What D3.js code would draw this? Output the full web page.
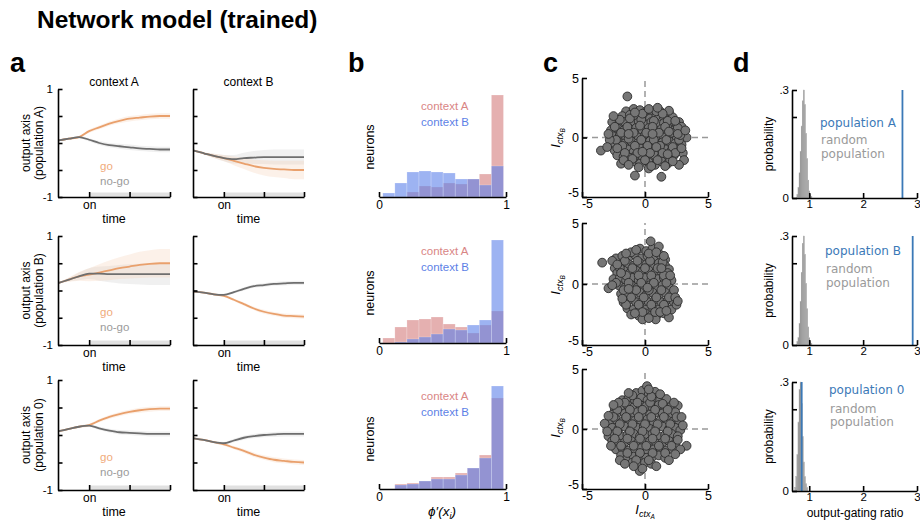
<!DOCTYPE html>
<html>
<head>
<meta charset="utf-8">
<script src="https://cdn.jsdelivr.net/npm/d3@7"></script>
<style>
  body { margin: 0; background: #fff; }
  svg { display: block; }
</style>
</head>
<body>
<svg id="fig" width="920" height="520"></svg>
<script>
// ---------------- panel a: projections onto the output axis ----------------
const timePts = [-0.75, -0.5, -0.25, 0, 0.25, 0.5, 0.75, 1, 1.25, 1.5, 1.75, 2];

const popA_ctxA_go   = [0.05, 0.08, 0.11, 0.22, 0.29, 0.36, 0.41, 0.45, 0.47, 0.49, 0.50, 0.50];
const popA_ctxA_nogo = [0.05, 0.08, 0.11, 0.06, 0.00, -0.04, -0.06, -0.08, -0.10, -0.11, -0.12, -0.12];
const popA_ctxB_go   = [-0.14, -0.19, -0.24, -0.28, -0.33, -0.38, -0.43, -0.46, -0.48, -0.49, -0.50, -0.50];
const popA_ctxB_nogo = [-0.14, -0.19, -0.24, -0.28, -0.30, -0.28, -0.27, -0.26, -0.26, -0.26, -0.26, -0.26];

const popB_ctxA_go   = [0.14, 0.20, 0.26, 0.29, 0.33, 0.37, 0.41, 0.44, 0.47, 0.49, 0.50, 0.50];
const popB_ctxA_nogo = [0.14, 0.20, 0.26, 0.31, 0.31, 0.30, 0.30, 0.30, 0.30, 0.30, 0.30, 0.30];
const popB_ctxB_go   = [-0.02, -0.04, -0.07, -0.10, -0.17, -0.25, -0.33, -0.39, -0.43, -0.46, -0.47, -0.48];
const popB_ctxB_nogo = [-0.02, -0.04, -0.07, -0.08, -0.03, 0.03, 0.08, 0.10, 0.12, 0.13, 0.14, 0.14];

const pop0_ctxA_go   = [0.07, 0.11, 0.15, 0.18, 0.26, 0.33, 0.38, 0.42, 0.45, 0.47, 0.48, 0.48];
const pop0_ctxA_nogo = [0.07, 0.11, 0.15, 0.17, 0.12, 0.08, 0.05, 0.04, 0.03, 0.02, 0.02, 0.02];
const pop0_ctxB_go   = [-0.06, -0.09, -0.13, -0.17, -0.23, -0.29, -0.36, -0.41, -0.45, -0.47, -0.49, -0.50];
const pop0_ctxB_nogo = [-0.06, -0.09, -0.13, -0.15, -0.10, -0.05, -0.02, 0.00, 0.01, 0.02, 0.02, 0.02];

// spread (half-width of the shaded band) for each trace
const popA_ctxA_goSd   = [0.01, 0.015, 0.02, 0.03, 0.035, 0.04, 0.045, 0.05, 0.05, 0.05, 0.05, 0.05];
const popA_ctxA_nogoSd = [0.01, 0.015, 0.02, 0.03, 0.035, 0.04, 0.045, 0.05, 0.05, 0.05, 0.05, 0.05];
const popA_ctxB_goSd   = [0.01, 0.02, 0.04, 0.06, 0.08, 0.10, 0.12, 0.14, 0.15, 0.16, 0.17, 0.17];
const popA_ctxB_nogoSd = [0.01, 0.02, 0.04, 0.06, 0.08, 0.10, 0.12, 0.13, 0.14, 0.14, 0.14, 0.14];
const popB_ctxA_goSd   = [0.01, 0.04, 0.08, 0.12, 0.15, 0.18, 0.20, 0.22, 0.24, 0.25, 0.26, 0.26];
const popB_ctxA_nogoSd = [0.01, 0.03, 0.07, 0.10, 0.13, 0.15, 0.17, 0.18, 0.19, 0.20, 0.20, 0.20];
const popB_ctxB_goSd   = [0.01, 0.01, 0.015, 0.02, 0.025, 0.03, 0.03, 0.035, 0.035, 0.04, 0.04, 0.04];
const popB_ctxB_nogoSd = [0.01, 0.01, 0.015, 0.02, 0.025, 0.03, 0.03, 0.035, 0.035, 0.04, 0.04, 0.04];
const pop0_ctxA_goSd   = [0.01, 0.015, 0.02, 0.025, 0.03, 0.035, 0.04, 0.04, 0.045, 0.045, 0.045, 0.045];
const pop0_ctxA_nogoSd = [0.01, 0.015, 0.02, 0.025, 0.03, 0.035, 0.04, 0.04, 0.045, 0.045, 0.045, 0.045];
const pop0_ctxB_goSd   = [0.01, 0.015, 0.02, 0.025, 0.03, 0.035, 0.04, 0.04, 0.045, 0.045, 0.045, 0.045];
const pop0_ctxB_nogoSd = [0.01, 0.015, 0.02, 0.025, 0.03, 0.035, 0.04, 0.04, 0.045, 0.045, 0.045, 0.045];

const contextNames = ["context A", "context B"];
const populationNames = ["population A", "population B", "population 0"];

// ---------------- panel b: histograms of phi'(x_i) ----------------
const phiBins = [0.03, 0.125, 0.22, 0.315, 0.41, 0.505, 0.60, 0.695, 0.79, 0.885, 0.98];
const phiPopA_ctxA = [0, 0, 5, 11, 10, 14, 13, 18, 23, 102];
const phiPopA_ctxB = [4, 14, 25, 26, 25, 24, 18, 18, 12, 31];
const phiPopB_ctxA = [5, 16, 23, 24, 26, 19, 16, 10, 18, 32];
const phiPopB_ctxB = [0, 1, 4, 6, 9, 14, 13, 18, 23, 103];
const phiPop0_ctxA = [0, 5, 6, 8, 12, 12, 16, 21, 34, 91];
const phiPop0_ctxB = [0, 4, 5, 8, 10, 10, 14, 21, 31, 103];

// ---------------- panel c: context input weights per neuron ----------------
const ctxWeightsPopA = [
  [-1.5,2.2],[-0.9,2.4],[-0.4,2.3],[0.1,2.2],[0.6,2.0],[1.2,2.2],[1.9,2.1],
  [-2.3,1.5],[-1.8,1.8],[-1.2,1.9],[-0.6,1.7],[-0.1,1.9],[0.4,1.6],[0.9,1.8],[1.5,1.7],[2.2,1.7],[2.7,1.3],
  [-2.6,1.3],[-2.1,1.1],[-1.6,1.3],[-1.0,1.2],[-0.5,1.3],[0.0,1.1],[0.5,1.3],[1.0,1.1],[1.5,1.2],[2.0,1.0],[2.5,1.1],[2.9,0.9],
  [-2.7,0.6],[-2.2,0.8],[-1.7,0.6],[-1.2,0.7],[-0.7,0.8],[-0.2,0.6],[0.3,0.8],[0.8,0.6],[1.3,0.7],[1.8,0.8],[2.3,0.6],[2.8,0.5],
  [-2.5,0.1],[-2.0,0.2],[-1.5,0.0],[-1.0,0.2],[-0.5,0.0],[0.0,0.2],[0.5,-0.1],[1.0,0.1],[1.5,0.0],[2.0,0.2],[2.5,-0.1],[3.3,0.0],
  [-2.6,-0.6],[-2.1,-0.4],[-1.6,-0.5],[-1.1,-0.3],[-0.6,-0.5],[-0.1,-0.4],[0.4,-0.3],[0.9,-0.5],[1.4,-0.4],[1.9,-0.3],[2.4,-0.5],[2.9,-0.6],
  [-3.5,-1.1],[-2.4,-1.1],[-1.9,-0.9],[-1.4,-1.0],[-0.9,-1.2],[-0.4,-0.9],[0.1,-1.0],[0.6,-1.2],[1.1,-0.9],[1.6,-1.0],[2.1,-1.1],[2.6,-1.0],[3.0,-1.3],
  [-2.2,-1.5],[-1.7,-1.6],[-1.2,-1.7],[-0.7,-1.5],[-0.2,-1.6],[0.3,-1.7],[0.8,-1.5],[1.3,-1.6],[1.8,-1.7],[2.3,-1.5],[3.1,-1.9],
  [-1.9,-2.2],[-1.4,-2.1],[-0.9,-2.0],[-0.4,-2.2],[0.3,-2.1],[0.8,-2.3],[1.3,-2.0],[1.8,-2.2],[2.7,-2.3],
  [-1.4,3.45],[-0.8,-3.2],[1.3,-3.3],[0.3,-2.6],[1.9,2.25],
  [-1.2,1.6],[-0.3,1.5],[0.7,1.4],[1.8,1.4],[-2.4,0.9],[-1.4,0.9],[-0.4,1.0],[0.6,0.9],[1.6,0.9],[2.6,0.8],
  [-1.9,0.4],[-0.9,0.4],[0.1,0.4],[1.1,0.4],[2.1,0.4],[-2.3,-0.2],[-1.3,-0.1],[-0.3,-0.2],[0.7,-0.2],[1.7,-0.2],
  [2.7,-0.2],[-1.8,-0.7],[-0.8,-0.7],[0.2,-0.7],[1.2,-0.7],[2.2,-0.8],[-1.6,-1.3],[-0.6,-1.3],[0.4,-1.3],[1.4,-1.3],
  [2.4,-1.3],[-1.0,-1.8],[0.0,-1.9],[1.0,-1.9],[2.0,-1.9],[-0.2,2.0],[0.9,2.2],[-1.7,-1.9],[2.8,0.2],[-2.8,-0.2],
  [-2.0,1.5],[-0.8,2.1],[0.3,2.4],[1.4,2.0],[2.4,1.4],[-2.9,0.3],[-1.3,0.3],[0.6,0.3],[1.9,0.5],[2.6,0.3],
  [-2.2,-0.9],[-0.2,-1.2],[0.9,-0.8],[1.8,-1.4],[2.9,-0.9],[-1.3,-2.3],[0.5,-2.4],[1.6,-2.4],[-2.5,1.8],[3.2,0.6],
  [-0.5,-2.5],[2.2,-2.0],[-3.0,-0.8],[1.0,2.5]
];
const ctxWeightsPopB = [
  [-0.4,2.9],[0.1,2.7],[0.6,2.9],[-0.9,2.6],
  [-2.3,2.1],[-1.8,2.3],[-1.3,2.2],[-0.8,2.4],[-0.3,2.1],[0.2,2.3],[0.7,2.2],[1.2,2.4],[1.6,2.0],
  [-2.4,1.3],[-1.9,1.6],[-1.4,1.7],[-0.9,1.5],[-0.4,1.7],[0.1,1.6],[0.6,1.5],[1.1,1.7],[1.6,1.5],[1.9,1.2],
  [-2.2,0.9],[-1.7,1.1],[-1.2,0.9],[-0.7,1.1],[-0.2,1.0],[0.3,1.1],[0.8,0.9],[1.3,1.0],[1.8,0.9],
  [-2.5,0.4],[-2.0,0.5],[-1.5,0.3],[-1.0,0.5],[-0.5,0.3],[0.0,0.5],[0.5,0.3],[1.0,0.4],[1.5,0.5],[2.1,0.3],
  [-2.9,-0.35],[-2.1,-0.1],[-1.6,-0.3],[-1.1,-0.1],[-0.6,-0.3],[-0.1,-0.2],[0.4,-0.1],[0.9,-0.3],[1.4,-0.1],[1.9,-0.3],
  [-1.9,-0.8],[-1.4,-0.7],[-0.9,-0.9],[-0.4,-0.7],[0.1,-0.9],[0.6,-0.7],[1.1,-0.9],[1.6,-0.7],[2.1,-0.9],
  [-1.7,-1.5],[-1.2,-1.3],[-0.7,-1.5],[-0.2,-1.3],[0.3,-1.5],[0.8,-1.3],[1.3,-1.5],[1.8,-1.3],[2.3,-1.5],
  [-1.4,-2.0],[-0.9,-2.1],[-0.4,-1.9],[0.1,-2.1],[0.6,-1.9],[1.1,-2.1],[1.6,-1.9],[2.1,-2.1],
  [-1.1,-2.5],[-0.5,-2.6],[0.0,-2.4],[0.5,-2.6],[1.0,-2.5],[1.5,-2.4],
  [-3.4,1.75],[0.45,3.5],[1.1,3.07],[1.9,-2.74],[2.5,-1.7],[0.85,-2.9],[-0.2,-2.9],
  [-1.6,1.9],[-0.6,1.9],[0.4,1.9],[1.4,1.8],[-2.0,1.3],[-1.0,1.3],[0.0,1.3],[1.0,1.3],[-1.5,0.7],[-0.5,0.7],
  [0.5,0.7],[1.5,0.7],[-2.3,0.1],[-1.3,0.1],[-0.3,0.1],[0.7,0.1],[1.7,0.1],[-1.7,-0.5],[-0.7,-0.5],[0.3,-0.5],
  [1.3,-0.5],[-1.1,-1.1],[-0.1,-1.1],[0.9,-1.1],[1.9,-1.1],[-1.5,-1.7],[-0.5,-1.7],[0.5,-1.7],[1.5,-1.7],[-0.2,-2.3],
  [0.8,-2.3],[-1.1,2.6],[0.3,2.5],
  [-2.6,1.9],[-1.5,2.5],[0.9,2.6],[1.5,2.3],[-2.2,1.6],[2.0,0.7],[-2.6,-0.1],[2.3,-0.5],[2.4,-1.1],[1.2,-2.3],
  [-0.8,-2.4],[0.3,-2.8],[-1.8,-1.2],[2.6,-1.4],[-0.7,2.8],[1.3,1.3],[-1.9,0.9],[0.2,-0.3],[-1.3,-0.4],[1.7,-2.2]
];
const ctxWeightsPop0 = [
  [-0.7,3.0],[-0.2,3.2],[0.3,2.9],[0.8,3.1],
  [-1.8,2.4],[-1.3,2.6],[-0.8,2.4],[-0.3,2.6],[0.2,2.4],[0.7,2.6],[1.2,2.4],[1.7,2.5],
  [-2.4,1.7],[-1.9,1.9],[-1.4,2.0],[-0.9,1.8],[-0.4,2.0],[0.1,1.9],[0.6,1.8],[1.1,2.0],[1.6,1.8],[2.1,1.9],[2.6,1.95],
  [-2.6,1.2],[-2.1,1.4],[-1.6,1.3],[-1.1,1.2],[-0.6,1.4],[-0.1,1.3],[0.4,1.2],[0.9,1.4],[1.4,1.3],[1.9,1.2],[2.4,1.4],
  [-2.8,0.6],[-2.3,0.8],[-1.8,0.6],[-1.3,0.8],[-0.8,0.7],[-0.3,0.6],[0.2,0.8],[0.7,0.6],[1.2,0.7],[1.7,0.8],[2.2,0.6],[2.7,0.7],
  [-3.2,0.45],[-2.6,0.1],[-2.1,0.0],[-1.6,0.2],[-1.1,0.0],[-0.6,0.1],[-0.1,0.2],[0.4,0.0],[0.9,0.1],[1.4,0.2],[1.9,0.0],[2.4,0.1],[2.8,-0.1],
  [-2.9,-0.6],[-2.4,-0.4],[-1.9,-0.6],[-1.4,-0.5],[-0.9,-0.4],[-0.4,-0.6],[0.1,-0.5],[0.6,-0.4],[1.1,-0.6],[1.6,-0.5],[2.1,-0.4],[2.6,-0.6],
  [-2.6,-1.0],[-2.1,-1.2],[-1.6,-1.1],[-1.1,-1.0],[-0.6,-1.2],[-0.1,-1.1],[0.4,-1.0],[0.9,-1.2],[1.4,-1.1],[1.9,-1.0],[2.4,-1.2],[3.3,-1.4],
  [-2.3,-1.7],[-1.8,-1.6],[-1.3,-1.8],[-0.8,-1.7],[-0.3,-1.6],[0.2,-1.8],[0.7,-1.7],[1.2,-1.6],[1.7,-1.8],[2.2,-1.7],
  [-1.9,-2.2],[-1.4,-2.4],[-0.9,-2.3],[-0.4,-2.2],[0.1,-2.4],[0.6,-2.3],[1.1,-2.2],[1.6,-2.4],
  [-1.0,-2.8],[-0.5,-3.0],[0.0,-2.8],[0.5,-2.9],[-0.42,-3.5],[-0.2,-3.3],[0.16,3.57],
  [-1.6,2.2],[-0.6,2.2],[0.4,2.2],[1.4,2.1],[-2.2,1.6],[-1.2,1.6],[-0.2,1.6],[0.8,1.6],[1.8,1.6],[-2.5,1.0],
  [-1.5,1.0],[-0.5,1.0],[0.5,1.0],[1.5,1.0],[2.5,1.0],[-2.0,0.4],[-1.0,0.4],[0.0,0.4],[1.0,0.4],[2.0,0.4],
  [-2.2,-0.2],[-1.2,-0.2],[-0.2,-0.2],[0.8,-0.2],[1.8,-0.2],[-2.4,-0.8],[-1.4,-0.8],[-0.4,-0.8],[0.6,-0.8],[1.6,-0.8],
  [2.6,-0.9],[-1.9,-1.4],[-0.9,-1.4],[0.1,-1.4],[1.1,-1.4],[2.1,-1.4],[-1.4,-2.0],[-0.4,-2.0],[0.6,-2.0],[1.6,-2.0],
  [-0.7,-2.6],[0.3,-2.6],[-1.0,2.8],[0.5,2.7],
  [-2.9,1.1],[-2.1,2.2],[2.3,2.2],[2.9,1.0],[-3.0,-0.2],[3.0,0.3],[-2.7,-1.4],[2.8,-1.7],[-2.0,-2.6],[1.9,-2.6],
  [-1.3,3.0],[1.2,2.9],[-0.9,-3.1],[0.9,-3.1],[0.3,3.3],[-1.6,-2.9],[2.4,-2.1],[-2.5,2.0]
];

// ---------------- panel d: output-gating ratio ----------------
const gatingBins = [0.71, 0.73, 0.75, 0.77, 0.79, 0.81, 0.83, 0.85, 0.87, 0.89, 0.91, 0.93, 0.95, 0.97, 0.99, 1.01, 1.03, 1.05];
const randomProbA = [0, 0, 0, 0.01, 0.03, 0.07, 0.13, 0.20, 0.27, 0.30, 0.26, 0.18, 0.11, 0.05, 0.02, 0.01, 0.005];
const randomProbB = [0, 0, 0, 0.01, 0.02, 0.06, 0.12, 0.20, 0.28, 0.30, 0.25, 0.17, 0.10, 0.05, 0.02, 0.01, 0.005];
const randomProb0 = [0, 0.01, 0.04, 0.10, 0.19, 0.28, 0.30, 0.24, 0.15, 0.08, 0.04, 0.02, 0.01, 0, 0, 0, 0];
const gatingRatioPopA = 2.73;
const gatingRatioPopB = 2.92;
const gatingRatioPop0 = 0.86;

// ---------------- drawing ----------------
const FONT = '"Liberation Sans", Arial, Helvetica, sans-serif';
const FONT_D = '"DejaVu Sans", Verdana, sans-serif';
const GO = "#E9A06C", GO_TXT = "#F0AB7C", NOGO = "#6E6E6E", NOGO_TXT = "#9B9B9B";
const RED = "#D47C7C", BLUE = "#5C80EA", RED_TXT = "#D98585", BLUE_TXT = "#5D7FE6";
const LINE_BLUE = "#3B79B7";

const svg = d3.select("#fig");

function styleAxis(sel, size) {
  sel.attr("font-family", FONT);
  sel.select(".domain").attr("stroke", "#000").attr("stroke-width", 1.6);
  sel.selectAll(".tick line").attr("stroke", "#000").attr("stroke-width", 1.6);
  sel.selectAll(".tick text").attr("font-family", FONT).attr("font-size", size || 11.5).attr("fill", "#000");
}

function vLabel(x, y, lines, opts) {
  const t = svg.append("text").attr("transform", `translate(${x},${y}) rotate(-90)`)
    .attr("text-anchor", "middle").attr("font-family", opts.font || FONT)
    .attr("font-size", opts.size || 12).attr("fill", "#000");
  lines.forEach((s, i) => t.append("tspan").attr("x", 0).attr("dy", i === 0 ? 0 : opts.lead).text(s));
  return t;
}

// title and panel letters
svg.append("text").attr("x", 37).attr("y", 28).attr("font-family", FONT)
  .attr("font-weight", "bold").attr("font-size", 24.5).text("Network model (trained)");
[["a", 10], ["b", 348], ["c", 543], ["d", 733]].forEach(([l, x]) =>
  svg.append("text").attr("x", x).attr("y", 72).attr("font-family", FONT)
    .attr("font-weight", "bold").attr("font-size", 27).text(l));

// ---- panel a ----
const traceRows = [
  { top: 89, bot: 197, leg: [169.5, 184.5],
    ctx: [[popA_ctxA_go, popA_ctxA_goSd, popA_ctxA_nogo, popA_ctxA_nogoSd],
          [popA_ctxB_go, popA_ctxB_goSd, popA_ctxB_nogo, popA_ctxB_nogoSd]] },
  { top: 236, bot: 345, leg: [315.5, 330.5],
    ctx: [[popB_ctxA_go, popB_ctxA_goSd, popB_ctxA_nogo, popB_ctxA_nogoSd],
          [popB_ctxB_go, popB_ctxB_goSd, popB_ctxB_nogo, popB_ctxB_nogoSd]] },
  { top: 380, bot: 490, leg: [461, 476],
    ctx: [[pop0_ctxA_go, pop0_ctxA_goSd, pop0_ctxA_nogo, pop0_ctxA_nogoSd],
          [pop0_ctxB_go, pop0_ctxB_goSd, pop0_ctxB_nogo, pop0_ctxB_nogoSd]] }
];
const traceCols = [[58, 170], [193, 304]];

traceRows.forEach((row, r) => {
  row.ctx.forEach(([go, goSd, nogo, nogoSd], ci) => {
    const x = d3.scaleLinear().domain([-0.77, 2]).range(traceCols[ci]);
    const y = d3.scaleLinear().domain([-1, 1]).range([row.bot, row.top]);
    const g = svg.append("g");

    // stimulus period
    g.append("rect").attr("x", x(0)).attr("width", x(2) - x(0))
      .attr("y", row.bot - 4.5).attr("height", 4.5).attr("fill", "#e1e1e1");

    const band = (m, s) => d3.area().curve(d3.curveMonotoneX)
      .x((d, i) => x(timePts[i])).y0((d, i) => y(m[i] - s[i])).y1((d, i) => y(m[i] + s[i]))(m);
    const line = m => d3.line().curve(d3.curveMonotoneX)
      .x((d, i) => x(timePts[i])).y(d => y(d))(m);

    g.append("path").attr("d", band(nogo, nogoSd)).attr("fill", "#c4c4c4").attr("fill-opacity", 0.25);
    g.append("path").attr("d", band(go, goSd)).attr("fill", "#F6D2B6").attr("fill-opacity", 0.3);
    g.append("path").attr("d", line(go)).attr("fill", "none").attr("stroke", GO).attr("stroke-width", 1.8);
    g.append("path").attr("d", line(nogo)).attr("fill", "none").attr("stroke", NOGO).attr("stroke-width", 1.8);

    const ya = g.append("g").attr("transform", `translate(${traceCols[ci][0]},0)`)
      .call(d3.axisLeft(y).tickValues([-1, -0.5, 0, 0.5, 1]).tickSize(-4.5).tickSizeOuter(0).tickPadding(5)
        .tickFormat(d => ci === 0 && Math.abs(d) === 1 ? String(d) : ""));
    styleAxis(ya, 11.5);
    const xa = g.append("g").attr("transform", `translate(0,${row.bot})`)
      .call(d3.axisBottom(x).tickValues([0, 1, 2]).tickSize(-5).tickSizeOuter(0).tickPadding(3)
        .tickFormat(d => d === 0 ? "on" : ""));
    styleAxis(xa, 12);

    g.append("text").attr("x", (traceCols[ci][0] + traceCols[ci][1]) / 2).attr("y", row.bot + 26)
      .attr("text-anchor", "middle").attr("font-family", FONT).attr("font-size", 12.5).text("time");

    if (r === 0) {
      g.append("text").attr("x", (traceCols[ci][0] + traceCols[ci][1]) / 2).attr("y", 85.5)
        .attr("text-anchor", "middle").attr("font-family", FONT).attr("font-size", 12).text(contextNames[ci]);
    }
    if (ci === 0) {
      g.append("text").attr("x", 100).attr("y", row.leg[0]).attr("font-family", FONT)
        .attr("font-size", 11.5).attr("fill", GO_TXT).text("go");
      g.append("text").attr("x", 100).attr("y", row.leg[1]).attr("font-family", FONT)
        .attr("font-size", 11.5).attr("fill", NOGO_TXT).text("no-go");
    }
  });
  vLabel(29.5, (row.top + row.bot) / 2, ["output axis", "(" + populationNames[r] + ")"], { size: 12, lead: 13 });
});

// ---- panel b ----
const phiRows = [
  { base: 197, a: phiPopA_ctxA, b: phiPopA_ctxB, txt: [110, 126] },
  { base: 343, a: phiPopB_ctxA, b: phiPopB_ctxB, txt: [255, 270.5] },
  { base: 489, a: phiPop0_ctxA, b: phiPop0_ctxB, txt: [400, 416] }
];
phiRows.forEach((row, r) => {
  const x = d3.scaleLinear().domain([0, 1]).range([379, 506]);
  const y = d3.scaleLinear().domain([0, 100]).range([row.base, row.base - 100]);
  const g = svg.append("g");
  const bars = (counts, color) => g.append("g").selectAll("rect").data(counts).join("rect")
    .attr("x", (d, i) => x(phiBins[i])).attr("width", (d, i) => x(phiBins[i + 1]) - x(phiBins[i]))
    .attr("y", d => y(d)).attr("height", d => y(0) - y(d))
    .attr("fill", color).attr("fill-opacity", 0.6)
    .attr("stroke", "#fff").attr("stroke-opacity", 0.35).attr("stroke-width", 0.6);
  bars(row.a, RED);
  bars(row.b, BLUE);

  const xa = g.append("g").attr("transform", `translate(0,${row.base})`)
    .call(d3.axisBottom(x).tickValues([0, 1]).tickSize(-5).tickSizeOuter(0).tickPadding(3).tickFormat(d3.format("d")));
  styleAxis(xa, 12);

  g.append("text").attr("x", 421).attr("y", row.txt[0]).attr("font-family", FONT)
    .attr("font-size", 11.5).attr("fill", RED_TXT).text(contextNames[0]);
  g.append("text").attr("x", 421).attr("y", row.txt[1]).attr("font-family", FONT)
    .attr("font-size", 11.5).attr("fill", BLUE_TXT).text(contextNames[1]);
  vLabel(374, row.base - 50, ["neurons"], { size: 12.5 });
});
{
  const t = svg.append("text").attr("x", 442).attr("y", 516).attr("text-anchor", "middle")
    .attr("font-family", FONT).attr("font-size", 13.5).attr("font-style", "italic");
  t.append("tspan").text("\u03D5\u2032(x");
  t.append("tspan").attr("font-size", 9).attr("dy", 3).text("i");
  t.append("tspan").attr("dy", -3).text(")");
}

// ---- panel c ----
const scatterRows = [
  { top: 78, bot: 197, pts: ctxWeightsPopA, labY: 138 },
  { top: 223, bot: 345, pts: ctxWeightsPopB, labY: 285 },
  { top: 369, bot: 489, pts: ctxWeightsPop0, labY: 428 }
];
function ctxLabel(sel, sub) {
  sel.append("tspan").attr("font-size", 13).text("I");
  sel.append("tspan").attr("font-size", 9).attr("dy", 3).text("ctx");
  sel.append("tspan").attr("font-size", 6.5).attr("dy", 2).text(sub);
}
scatterRows.forEach((row, r) => {
  const x = d3.scaleLinear().domain([-5, 5]).range([582, 708]);
  const y = d3.scaleLinear().domain([-5, 5]).range([row.bot, row.top]);
  const g = svg.append("g");
  g.append("line").attr("x1", x(-5)).attr("x2", x(5)).attr("y1", y(0)).attr("y2", y(0))
    .attr("stroke", "#999").attr("stroke-width", 1.5).attr("stroke-dasharray", "6,4");
  g.append("line").attr("x1", x(0)).attr("x2", x(0)).attr("y1", y(-5)).attr("y2", y(5))
    .attr("stroke", "#999").attr("stroke-width", 1.5).attr("stroke-dasharray", "6,4");
  g.append("g").selectAll("circle").data(row.pts).join("circle")
    .attr("cx", d => x(d[0])).attr("cy", d => y(d[1])).attr("r", 4.4)
    .attr("fill", "#767676").attr("stroke", "#2b2b2b").attr("stroke-width", 0.9);

  const ya = g.append("g").attr("transform", `translate(582,0)`)
    .call(d3.axisLeft(y).tickValues([-5, 0, 5]).tickSize(-5).tickSizeOuter(0).tickPadding(3).tickFormat(d => String(d)));
  styleAxis(ya, 12.5);
  // lift the lower "-5" so it clears the x-axis label at the corner
  ya.selectAll(".tick text").filter(d => d === -5).attr("dy", "-0.02em");
  const xa = g.append("g").attr("transform", `translate(0,${row.bot})`)
    .call(d3.axisBottom(x).tickValues([-5, 0, 5]).tickSize(-5).tickSizeOuter(0).tickPadding(2).tickFormat(d => String(d)));
  styleAxis(xa, 12.5);
  xa.selectAll(".tick text").filter(d => d === -5).attr("dx", 5);

  const t = svg.append("text").attr("transform", `translate(559.5,${row.labY}) rotate(-90)`)
    .attr("text-anchor", "middle").attr("font-family", FONT).attr("font-style", "italic");
  ctxLabel(t, "B");
});
{
  const t = svg.append("text").attr("x", 645).attr("y", 514).attr("text-anchor", "middle")
    .attr("font-family", FONT).attr("font-style", "italic");
  ctxLabel(t, "A");
}

// ---- panel d ----
const gatingRows = [
  { top: 90, bot: 198, prob: randomProbA, ratio: gatingRatioPopA, tx: 820, ty: [127.3, 144, 158] },
  { top: 236, bot: 345, prob: randomProbB, ratio: gatingRatioPopB, tx: 825, ty: [255, 273, 286.5] },
  { top: 382, bot: 491, prob: randomProb0, ratio: gatingRatioPop0, tx: 829, ty: [394, 412.5, 426] }
];
gatingRows.forEach((row, r) => {
  const x = d3.scaleLinear().domain([0.68, 3]).range([792, 917]);
  const y = d3.scaleLinear().domain([0, 0.3]).range([row.bot, row.top]);
  const g = svg.append("g");
  g.append("g").selectAll("rect").data(row.prob).join("rect")
    .attr("x", (d, i) => x(gatingBins[i])).attr("width", (d, i) => x(gatingBins[i + 1]) - x(gatingBins[i]))
    .attr("y", d => y(d)).attr("height", d => y(0) - y(d))
    .attr("fill", "#858585").attr("stroke", "#b5b5b5").attr("stroke-width", 0.4);
  g.append("line").attr("x1", x(row.ratio)).attr("x2", x(row.ratio)).attr("y1", y(0)).attr("y2", y(0.3))
    .attr("stroke", LINE_BLUE).attr("stroke-width", 1.8);

  const ya = g.append("g").attr("transform", `translate(792,0)`)
    .call(d3.axisLeft(y).tickValues([0, 0.225, 0.3]).tickSize(-5).tickSizeOuter(0).tickPadding(3)
      .tickFormat(d => d === 0 ? "0" : d === 0.3 ? ".3" : ""));
  styleAxis(ya, 11.5);
  const xa = g.append("g").attr("transform", `translate(0,${row.bot})`)
    .call(d3.axisBottom(x).tickValues([1, 2, 3]).tickSize(-5).tickSizeOuter(0).tickPadding(2).tickFormat(d3.format("d")));
  styleAxis(xa, 11.5);

  g.append("text").attr("x", row.tx).attr("y", row.ty[0]).attr("font-family", FONT_D)
    .attr("font-size", 12).attr("fill", LINE_BLUE).text(populationNames[r]);
  g.append("text").attr("x", row.tx + 1).attr("y", row.ty[1]).attr("font-family", FONT_D)
    .attr("font-size", 12).attr("fill", "#9a9a9a").text("random");
  g.append("text").attr("x", row.tx + 1).attr("y", row.ty[2]).attr("font-family", FONT_D)
    .attr("font-size", 12).attr("fill", "#9a9a9a").text("population");
  vLabel(773, (row.top + row.bot) / 2, ["probability"], { size: 12 });
});
svg.append("text").attr("x", 855).attr("y", 517).attr("text-anchor", "middle")
  .attr("font-family", FONT).attr("font-size", 12).text("output-gating ratio");
</script>
</body>
</html>
